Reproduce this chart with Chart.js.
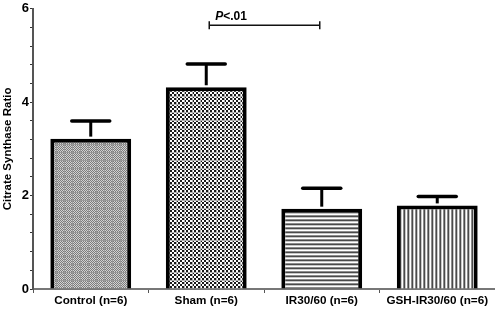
<!DOCTYPE html>
<html><head><meta charset="utf-8">
<script src="https://cdn.jsdelivr.net/npm/chart.js@4/dist/chart.umd.min.js"></script>
<style>html,body{margin:0;padding:0;background:#fff}#wrap{width:495px;height:309px}</style>
</head><body><div id="wrap"><canvas id="c" width="495" height="309"></canvas></div>
<script>
const categories = ["Control (n=6)", "Sham (n=6)", "IR30/60 (n=6)", "GSH-IR30/60 (n=6)"];
const means = [3.22, 4.32, 1.72, 1.79];
const errors = [0.38, 0.50, 0.44, 0.19];
const yTickLabels = [0, 2, 4, 6];
const bracket = {from: 1, to: 2, y: 5.65, label: "P<.01"};

const ctx0 = document.getElementById('c').getContext('2d');
function makePattern(w, h, draw) {
  const t = document.createElement('canvas'); t.width = w; t.height = h;
  const g = t.getContext('2d'); draw(g, w, h);
  return ctx0.createPattern(t, 'repeat');
}
const pControl = makePattern(8, 8, (g) => {
  for (let y = 0; y < 8; y++) for (let x = 0; x < 8; x++) {
    g.fillStyle = ((x + y) % 2 === 0) ? '#7c7c7c' : '#d2d2d2';
    g.fillRect(x, y, 1, 1);
  }
  g.fillStyle = '#9a9a9a'; g.fillRect(0, 0, 8, 1); g.fillRect(0, 0, 1, 8);
});
const pSham = makePattern(8, 8, (g) => {
  for (let y = 0; y < 8; y += 2) for (let x = 0; x < 8; x += 2) {
    g.fillStyle = (((x + y) / 2) % 2 === 0) ? '#1a1a1a' : '#ffffff';
    g.fillRect(x, y, 2, 2);
  }
  g.fillStyle = '#b0b0b0'; g.fillRect(0, 0, 8, 1); g.fillRect(0, 0, 1, 8);
});
const stripes = ['#4a4a4a', '#c8c8c8', '#ffffff', '#8c8c8c'];
const pIR = makePattern(4, 4, (g) => {
  stripes.forEach((c, i) => { g.fillStyle = c; g.fillRect(0, i, 4, 1); });
});
const pGSH = makePattern(4, 4, (g) => {
  stripes.forEach((c, i) => { g.fillStyle = c; g.fillRect(i, 0, 1, 4); });
});

const annot = {
  id: 'annot',
  afterDatasetsDraw(chart) {
    const c = chart.ctx, xs = chart.scales.x, ys = chart.scales.y;
    c.save();
    c.strokeStyle = '#000'; c.lineCap = 'butt';
    means.forEach((m, i) => {
      const x = xs.getPixelForValue(i);
      const yTop = ys.getPixelForValue(m);
      const yErr = ys.getPixelForValue(m + errors[i]);
      c.lineWidth = 3;
      c.beginPath(); c.moveTo(x, yTop - 2); c.lineTo(x, yErr); c.stroke();
      c.lineWidth = 3.5; c.lineCap = 'round';
      c.beginPath(); c.moveTo(x - 19, yErr); c.lineTo(x + 19, yErr); c.stroke();
      c.lineCap = 'butt';
    });
    const x1 = xs.getPixelForValue(bracket.from) + 3, x2 = xs.getPixelForValue(bracket.to) - 2;
    const by = ys.getPixelForValue(bracket.y);
    c.lineWidth = 1.5; c.strokeStyle = '#111';
    c.beginPath(); c.moveTo(x1, by); c.lineTo(x2, by);
    c.moveTo(x1, by - 4); c.lineTo(x1, by + 4);
    c.moveTo(x2, by - 4); c.lineTo(x2, by + 4); c.stroke();
    c.fillStyle = '#000'; c.textBaseline = 'alphabetic'; c.textAlign = 'left';
    c.font = 'italic bold 12px "Liberation Sans", Arial, sans-serif';
    const px = x1 + 6, py = by - 5;
    c.fillText(bracket.label.charAt(0), px, py);
    const w = c.measureText(bracket.label.charAt(0)).width;
    c.font = 'bold 12px "Liberation Sans", Arial, sans-serif';
    c.fillText(bracket.label.slice(1), px + w, py);
    c.restore();
  }
};

new Chart(document.getElementById('c'), {
  type: 'bar',
  data: {
    labels: categories,
    datasets: [{
      data: means,
      backgroundColor: [pControl, pSham, pIR, pGSH],
      borderColor: '#000',
      borderWidth: 4,
      borderSkipped: 'start',
      categoryPercentage: 0.7,
      barPercentage: 1.0
    }]
  },
  options: {
    responsive: false,
    animation: false,
    layout: {padding: {top: 6, right: 0, left: 1, bottom: 0}},
    plugins: {legend: {display: false}, tooltip: {enabled: false}},
    scales: {
      x: {
        grid: {display: true, drawOnChartArea: false, tickLength: 4, color: '#555', lineWidth: 1},
        border: {display: true, color: '#777', width: 2},
        ticks: {color: '#000', padding: 1, font: {family: '"Liberation Sans", Arial, sans-serif', size: 11.7, weight: 'bold'}, maxRotation: 0, autoSkip: false},
        afterFit(s) { s.height = 20; }
      },
      y: {
        min: 0, max: 6,
        grid: {display: true, drawOnChartArea: false, tickLength: 3, color: '#333', lineWidth: 1},
        border: {display: true, color: '#555', width: 2},
        ticks: {
          stepSize: 0.4, color: '#000', padding: 1,
          font: {family: '"Liberation Sans", Arial, sans-serif', size: 13, weight: 'bold'},
          callback: (v) => { const r = Math.round(v * 10) / 10; return yTickLabels.includes(r) ? String(r) : ''; }
        },
        title: {display: true, text: 'Citrate Synthase Ratio', color: '#000', padding: 0,
          font: {family: '"Liberation Sans", Arial, sans-serif', size: 11.5, weight: 'bold'}},
        afterFit(s) { s.width = 32; }
      }
    }
  },
  plugins: [annot]
});
</script></body></html>
